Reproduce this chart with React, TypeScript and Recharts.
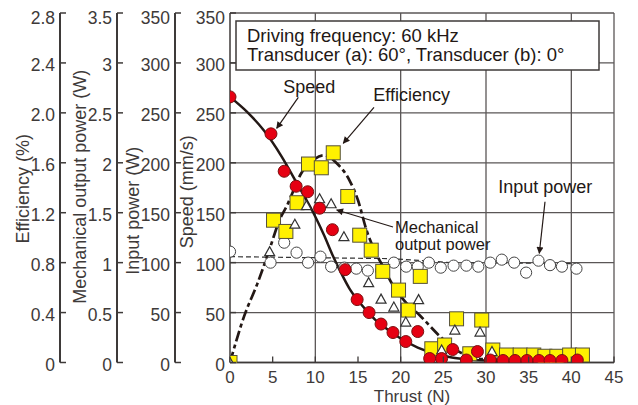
import React from 'react';
import { ComposedChart, Line, Scatter, XAxis, YAxis, CartesianGrid } from 'recharts';

// ---------- data ----------
const speedThrust = [0, 4.8, 6.35, 7.75, 9.1, 10.5, 12.0, 13.5, 14.9, 16.3, 17.7, 19.1, 20.6, 22.0, 23.4, 24.8, 26.1, 27.7, 29.0, 30.5, 32.0, 33.4, 34.8, 36.2, 37.5, 38.9, 40.7];
const speedValues = [266, 229, 191.5, 176.5, 171, 154.5, 133, 93, 63, 50, 38.5, 30, 21, 31, 4, 4, 13, 2.5, 11, 2.5, 2, 2, 2, 2, 2, 2, 2.5];

const speedFitThrust = [0, 2, 4, 6, 8, 10, 11, 12, 13, 14, 15, 16, 17, 18, 20, 22, 24, 26, 28, 30, 35, 41];
const speedFitValues = [266, 251, 232, 207, 177, 146, 128, 108, 90, 74, 62, 52, 43, 36, 24, 15, 9, 5, 3, 2, 1.5, 1.5];

const effThrust = [0, 5.1, 6.55, 7.85, 9.2, 10.7, 12.1, 13.8, 15.2, 16.55, 17.9, 19.75, 20.9, 22.3, 23.65, 25.15, 26.55, 28.1, 29.5, 30.8, 32.4, 34.0, 35.6, 36.9, 38.3, 39.8, 41.3];
const effValues = [0, 1.14, 1.05, 1.28, 1.59, 1.56, 1.68, 1.33, 1.02, 0.9, 0.73, 0.58, 0.42, 0.69, 0.11, 0.14, 0.35, 0.07, 0.34, 0.1, 0.06, 0.06, 0.06, 0.05, 0.05, 0.06, 0.06];

const effFitThrust = [0, 1.65, 3.2, 4.6, 5.8, 6.7, 8.3, 9.9, 11, 12.6, 14, 15, 16, 17, 18, 19, 20.5, 22.2, 24.6, 26.1, 28, 30, 35, 41];
const effFitValues = [0, 0.37, 0.63, 0.9, 1.14, 1.26, 1.51, 1.63, 1.66, 1.59, 1.46, 1.3, 1.06, 0.89, 0.76, 0.63, 0.49, 0.38, 0.21, 0.12, 0.05, 0.025, 0.02, 0.02];

const mechThrust = [0, 4.65, 7.6, 8.95, 10.5, 11.85, 13.35, 16.25, 17.7, 19.2, 20.6, 22.1, 24.8, 26.35, 29.3, 30.7];
const mechValues = [0, 1.11, 1.385, 1.57, 1.64, 1.59, 1.26, 0.8, 0.635, 0.555, 0.405, 0.63, 0.125, 0.325, 0.305, 0.11];

const inputThrust = [0, 4.75, 6.35, 7.8, 9.15, 10.6, 11.85, 13.4, 14.8, 16.15, 17.7, 19.2, 20.65, 22.0, 23.3, 24.7, 26.2, 27.7, 29.1, 30.5, 31.85, 33.3, 34.7, 36.15, 37.5, 38.9, 40.6];
const inputValues = [111, 100, 120, 110, 100, 106, 96, 95, 94, 92, 92, 100, 96, 96, 100, 95, 97, 97, 96, 100, 103, 100, 90, 102, 97.5, 96, 94];

const inputFitThrust = [0, 19, 26, 41];
const inputFitValues = [106, 104, 100, 99];

const xTicks = [0, 5, 10, 15, 20, 25, 30, 35, 40, 45];
const xGrid = [10, 20, 30, 40, 45];
const speedTicks = [0, 50, 100, 150, 200, 250, 300, 350];
const inputTicks = [0, 50, 100, 150, 200, 250, 300, 350];
const mechTicks = [0, 0.5, 1, 1.5, 2, 2.5, 3, 3.5];
const effTicks = [0, 0.4, 0.8, 1.2, 1.6, 2.0, 2.4, 2.8];

const zip = (xs: number[], ys: number[]) => xs.map((x, i) => ({ x, y: ys[i] }));

// axis ids (sorted order = nearest to plot first)
const SPD = 'a_spd';
const INP = 'b_inp';
const MECH = 'c_mech';
const EFF = 'd_eff';

// ---------- style ----------
const INK = '#3e3a39';
const GRID = '#5a5656';
const FONT = '"Liberation Sans", Arial, Helvetica, sans-serif';
const TICK_FS = 17.5;
const X_TICK_FS = 17;
const LABEL_FS = 18;
const X_MARGIN = 8;
const Y_MARGIN = 5;

const XTick = (p: any) => {
  const { x, y, payload } = p;
  const axisY = y - X_MARGIN;
  return (
    <g>
      <line x1={x} x2={x} y1={axisY} y2={axisY - 6} stroke={INK} strokeWidth={1.3} />
      <text x={x} y={y} dy="0.71em" textAnchor="middle" fill={INK} fontSize={X_TICK_FS} fontFamily={FONT}>
        {payload.value}
      </text>
    </g>
  );
};

const makeYTick = (fmt: (v: number) => string, top: number) => (p: any) => {
  const { x, y, payload } = p;
  const ax = x + Y_MARGIN;
  const shift = payload.value === top ? 5 : 2;
  return (
    <g>
      <line x1={ax} x2={ax + 6} y1={y} y2={y} stroke={INK} strokeWidth={1.5} />
      <text x={x} y={y + shift} dy="0.36em" textAnchor="end" fill={INK} fontSize={TICK_FS} fontFamily={FONT}>
        {fmt(payload.value)}
      </text>
    </g>
  );
};

const yLabel = (text: string, dx: number, dyc: number) => (props: any) => {
  const vb = props.viewBox || {};
  const cx = vb.x + dx;
  const cy = vb.y + vb.height / 2 + dyc;
  return (
    <text
      x={cx}
      y={cy}
      transform={`rotate(-90 ${cx} ${cy})`}
      textAnchor="middle"
      dominantBaseline="central"
      fill={INK}
      fontSize={LABEL_FS}
      fontFamily={FONT}
    >
      {text}
    </text>
  );
};

const xLabel = (props: any) => {
  const vb = props.viewBox || {};
  return (
    <text x={vb.x + vb.width / 2 - 10} y={vb.y + 34} textAnchor="middle" dominantBaseline="central" fill={INK} fontSize={17} fontFamily={FONT}>
      Thrust (N)
    </text>
  );
};

const RedDot = (p: any) => <circle cx={p.cx} cy={p.cy} r={6} fill="#e60012" stroke="#7a1010" strokeWidth={1} />;
const YellowSq = (p: any) => <rect x={p.cx - 7} y={p.cy - 7} width={14} height={14} fill="#fff100" stroke="#55503a" strokeWidth={1} />;
const Tri = (p: any) => (
  <polygon points={`${p.cx},${p.cy - 5} ${p.cx - 5},${p.cy + 4} ${p.cx + 5},${p.cy + 4}`} fill="#ffffff" stroke="#333" strokeWidth={1.2} />
);
const OpenDot = (p: any) => <circle cx={p.cx} cy={p.cy} r={5.6} fill="#ffffff" stroke="#444" strokeWidth={1} />;

const fmtEff = (v: number) => (v === 0 ? '0' : v.toFixed(1));
const fmtPlain = (v: number) => String(v);

const W = 630;
const H = 397;

export default function App() {
  return (
    <div style={{ position: 'relative', width: W, height: H }}>
      <ComposedChart width={W} height={H} margin={{ top: 5, right: 24, bottom: 2.5, left: 0 }}>
        <CartesianGrid
          xAxisId="x"
          yAxisId={SPD}
          stroke={GRID}
          strokeWidth={1.3}
          verticalValues={xGrid}
          horizontalValues={speedTicks}
        />
        <XAxis
          xAxisId="x"
          dataKey="x"
          type="number"
          domain={[0, 45]}
          ticks={xTicks}
          interval={0}
          allowDataOverflow
          height={40}
          tickSize={0}
          tickMargin={X_MARGIN}
          tickLine={false}
          axisLine={{ stroke: INK, strokeWidth: 1.5 }}
          tick={<XTick />}
          label={xLabel}
        />
        <YAxis
          yAxisId={SPD}
          orientation="left"
          type="number"
          domain={[0, 350]}
          ticks={speedTicks}
          interval={0}
          allowDataOverflow
          width={55}
          tickSize={0}
          tickMargin={Y_MARGIN}
          tickLine={false}
          axisLine={{ stroke: INK, strokeWidth: 1.5 }}
          tick={makeYTick(fmtPlain, 350)}
          label={yLabel('Speed (mm/s)', 12, 4)}
        />
        <YAxis
          yAxisId={INP}
          orientation="left"
          type="number"
          domain={[0, 350]}
          ticks={inputTicks}
          interval={0}
          allowDataOverflow
          width={58}
          tickSize={0}
          tickMargin={Y_MARGIN}
          tickLine={false}
          axisLine={{ stroke: INK, strokeWidth: 2 }}
          tick={makeYTick(fmtPlain, 350)}
          label={yLabel('Input power (W)', 16, 23)}
        />
        <YAxis
          yAxisId={MECH}
          orientation="left"
          type="number"
          domain={[0, 3.5]}
          ticks={mechTicks}
          interval={0}
          allowDataOverflow
          width={57}
          tickSize={0}
          tickMargin={Y_MARGIN}
          tickLine={false}
          axisLine={{ stroke: INK, strokeWidth: 2 }}
          tick={makeYTick(fmtPlain, 3.5)}
          label={yLabel('Mechanical output power (W)', 20, -1)}
        />
        <YAxis
          yAxisId={EFF}
          orientation="left"
          type="number"
          domain={[0, 2.8]}
          ticks={effTicks}
          interval={0}
          allowDataOverflow
          width={52}
          tickSize={0}
          tickMargin={Y_MARGIN}
          tickLine={false}
          axisLine={{ stroke: INK, strokeWidth: 2 }}
          tick={makeYTick(fmtEff, 2.8)}
          label={yLabel('Efficiency (%)', 15, 1)}
        />

        <Line
          xAxisId="x"
          yAxisId={INP}
          data={zip(inputFitThrust, inputFitValues)}
          dataKey="y"
          type="linear"
          stroke="#333"
          strokeWidth={1.2}
          strokeDasharray="5 3"
          dot={false}
          isAnimationActive={false}
        />
        <Line
          xAxisId="x"
          yAxisId={EFF}
          data={zip(effFitThrust, effFitValues)}
          dataKey="y"
          type="monotone"
          stroke="#231815"
          strokeWidth={2.7}
          strokeDasharray="11 3.5 4 3.5"
          dot={false}
          isAnimationActive={false}
        />
        <Line
          xAxisId="x"
          yAxisId={SPD}
          data={zip(speedFitThrust, speedFitValues)}
          dataKey="y"
          type="monotone"
          stroke="#231815"
          strokeWidth={2.5}
          dot={false}
          isAnimationActive={false}
        />
        <Scatter xAxisId="x" yAxisId={INP} data={zip(inputThrust, inputValues)} dataKey="y" shape={OpenDot} isAnimationActive={false} />
        <Scatter xAxisId="x" yAxisId={EFF} data={zip(effThrust, effValues)} dataKey="y" shape={YellowSq} isAnimationActive={false} />
        <Scatter xAxisId="x" yAxisId={MECH} data={zip(mechThrust, mechValues)} dataKey="y" shape={Tri} isAnimationActive={false} />
        <Scatter xAxisId="x" yAxisId={SPD} data={zip(speedThrust, speedValues)} dataKey="y" shape={RedDot} isAnimationActive={false} />
      </ComposedChart>

      <svg width={W} height={H} style={{ position: 'absolute', left: 0, top: 0, pointerEvents: 'none' }}>
        <defs>
          <marker id="ah" viewBox="0 0 10 10" refX="9" refY="5" markerWidth="9" markerHeight="7" markerUnits="userSpaceOnUse" orient="auto">
            <path d="M0,0 L10,5 L0,10 z" fill="#231815" />
          </marker>
        </defs>
        <rect x={228} y={13} width={363} height={49} fill="#ffffff" stroke={INK} strokeWidth={1.5} />
        <text x={239} y={34} fill="#231815" fontSize={18.5} fontFamily={FONT}>Driving frequency: 60 kHz</text>
        <text x={239} y={53} fill="#231815" fontSize={18.5} fontFamily={FONT}>Transducer (a): 60°, Transducer (b): 0°</text>

        <text x={275.3} y={84.7} fill="#231815" fontSize={18} fontFamily={FONT}>Speed</text>
        <line x1={290.3} y1={89.3} x2={268.7} y2={120.3} stroke="#231815" strokeWidth={1.2} markerEnd="url(#ah)" />

        <text x={365.3} y={92.7} fill="#231815" fontSize={18} fontFamily={FONT}>Efficiency</text>
        <line x1={366} y1={99.3} x2={335.3} y2={135.3} stroke="#231815" strokeWidth={1.2} markerEnd="url(#ah)" />

        <text x={387} y={224.5} fill="#231815" fontSize={16.5} fontFamily={FONT}>Mechanical</text>
        <text x={387} y={241.5} fill="#231815" fontSize={16.5} fontFamily={FONT}>output power</text>
        <line x1={385} y1={219} x2={328.7} y2={202} stroke="#231815" strokeWidth={1.2} markerEnd="url(#ah)" />

        <text x={490.3} y={184.7} fill="#231815" fontSize={18} fontFamily={FONT}>Input power</text>
        <line x1={537} y1={193.7} x2={531.3} y2={245.3} stroke="#231815" strokeWidth={1.2} markerEnd="url(#ah)" />
      </svg>
    </div>
  );
}
